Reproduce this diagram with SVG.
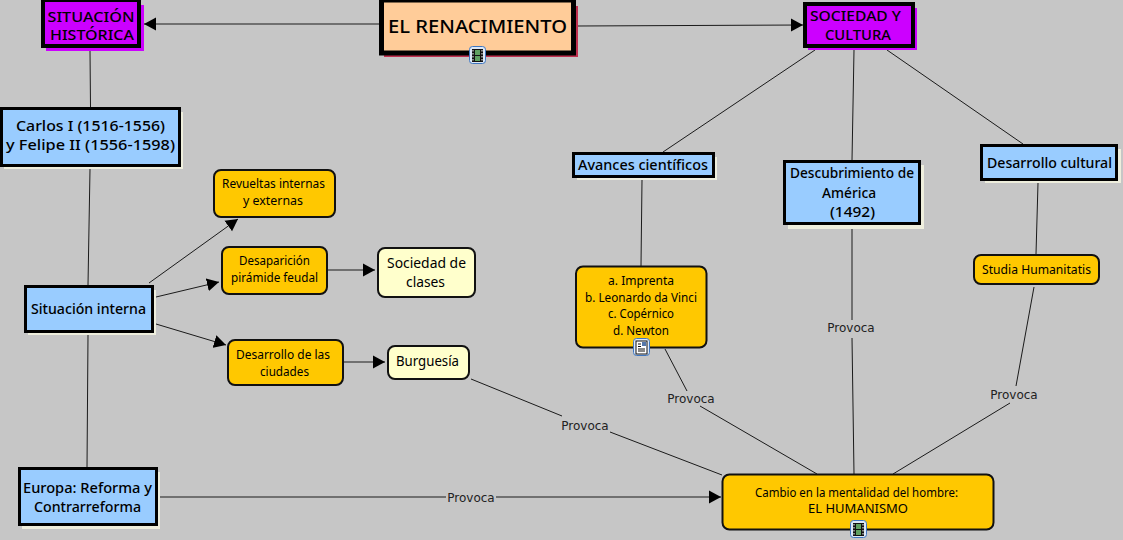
<svg xmlns="http://www.w3.org/2000/svg" xmlns:xlink="http://www.w3.org/1999/xlink" width="1123" height="540" viewBox="0 0 1123 540">
<style>
text{font-family:"Noto Sans","DejaVu Sans",sans-serif;fill:#000;text-anchor:middle}
.h{font-size:14px;font-weight:500}
.m{font-size:13px}
.s{font-size:12px}
.b{font-size:14px}
.p{font-family:"DejaVu Sans",sans-serif;font-size:12px;fill:#222}
.l{stroke:#1a1a1a;stroke-width:1;fill:none}
.a{marker-end:url(#ah)}
.purple{fill:#CC00FF;stroke:#000;stroke-width:4}
.blue{fill:#99CCFF;stroke:#000;stroke-width:3}
.gold{fill:#FFC800;stroke:#111;stroke-width:2}
.cream{fill:#FFFFCC;stroke:#111;stroke-width:2}
.ps{fill:#CC00FF}
.cs{fill:#EEEEDD}
</style>
<defs>
<marker id="ah" markerUnits="userSpaceOnUse" markerWidth="14" markerHeight="14" refX="12" refY="7" orient="auto"><path d="M0,0.500 L12,7 L0,13.500 Z" fill="#000"/></marker>
<symbol id="film" viewBox="0 0 17 19" overflow="visible">
<rect x="0.5" y="0.5" width="16" height="17" rx="3" fill="#DCE8F8" stroke="#3F76C0"/>
<rect x="3" y="3" width="11" height="13" fill="#111"/>
<rect x="6" y="4" width="5" height="5" fill="#5FA060"/>
<rect x="6" y="10" width="5" height="5" fill="#5FA060"/>
<path d="M4,4v11M13,4v11" stroke="#fff" stroke-dasharray="1.5 1.5" fill="none"/>
</symbol>
<symbol id="doc" viewBox="0 0 17 19" overflow="visible">
<rect x="0.5" y="0.5" width="16" height="17" rx="3" fill="#DCE8F8" stroke="#3F76C0"/>
<rect x="3" y="3" width="11" height="13" fill="#fff" stroke="#111"/>
<path d="M5,6h3M5,8.500h3M5,11h7M5,13h7" stroke="#111" fill="none"/>
<rect x="9" y="4" width="4" height="4" fill="#5577AA"/>
</symbol>
</defs>
<rect width="1123" height="540" fill="#C6C6C6"/>
<g id="connectors">
<path class="l a" d="M379,24H144"/>
<path class="l a" d="M577,26L803,25"/>
<path class="l" d="M90,51L90.500,107"/>
<path class="l" d="M90,169L88,285"/>
<path class="l" d="M88,335L87,467"/>
<path class="l" d="M815,50L663,152"/>
<path class="l" d="M854,50L852,160"/>
<path class="l" d="M887,50L1023,144"/>
<path class="l" d="M642,180L641,266"/>
<path class="l" d="M1038,183L1036,254"/>
<path class="l" d="M852,229L852,320M852,338L854,474"/>
<path class="l" d="M1034,287L1016,386M1010,403L893,474"/>
<path class="l" d="M665,349L687,391M700,406L817,474"/>
<path class="l" d="M471,379L562,416M610,432L722,475"/>
<path class="l" d="M158,497H446M496,497H721" marker-end="url(#ah)"/>
<path class="l a" d="M149,283L238,219"/>
<path class="l a" d="M156,297L219,282"/>
<path class="l a" d="M156,324L226,345"/>
<path class="l a" d="M327,270H375"/>
<path class="l a" d="M343,362H385"/>
<text class="p" x="851" y="332">Provoca</text>
<text class="p" x="1014" y="399">Provoca</text>
<text class="p" x="691" y="403">Provoca</text>
<text class="p" x="585" y="430">Provoca</text>
<text class="p" x="471" y="502">Provoca</text>
</g>
<g id="el-renacimiento">
<rect x="384" y="6" width="194" height="51" fill="#C0304F"/>
<rect x="381.500" y="0" width="192" height="53" fill="#FFCC99" stroke="#000" stroke-width="5"/>
<text x="477.500" y="33" font-size="18" font-weight="500" textLength="179" lengthAdjust="spacingAndGlyphs">EL RENACIMIENTO</text>
<use xlink:href="#film" x="469" y="46" width="17" height="19"/>
</g>
<g id="situacion-historica">
<rect x="46" y="5" width="98" height="46" class="ps"/>
<rect x="43" y="0" width="96" height="46" class="purple"/>
<text class="h" x="91" y="22" textLength="87" lengthAdjust="spacingAndGlyphs">SITUACIÓN</text>
<text class="h" x="92" y="40" textLength="84" lengthAdjust="spacingAndGlyphs">HISTÓRICA</text>
</g>
<g id="sociedad-cultura">
<rect x="808" y="8" width="109" height="42" class="ps"/>
<rect x="805" y="4" width="108" height="42" class="purple"/>
<text class="h" x="855.500" y="21" textLength="91" lengthAdjust="spacingAndGlyphs">SOCIEDAD Y</text>
<text class="h" x="858" y="40" textLength="66" lengthAdjust="spacingAndGlyphs">CULTURA</text>
</g>
<g id="carlos">
<rect x="4" y="112" width="179" height="57" class="cs"/>
<rect x="1.500" y="108.500" width="178" height="57" class="blue"/>
<text class="h" x="90.500" y="131" textLength="149" lengthAdjust="spacingAndGlyphs">Carlos I (1516-1556)</text>
<text class="h" x="90.500" y="150" textLength="169" lengthAdjust="spacingAndGlyphs">y Felipe II (1556-1598)</text>
</g>
<g id="situacion-interna">
<rect x="28" y="290" width="128" height="45" class="cs"/>
<rect x="25.500" y="286.500" width="127" height="45" class="blue"/>
<text class="h" x="88.500" y="314" textLength="115" lengthAdjust="spacingAndGlyphs">Situación interna</text>
</g>
<g id="europa">
<rect x="22" y="472" width="138" height="57" class="cs"/>
<rect x="19.500" y="468.500" width="137" height="56" class="blue"/>
<text class="h" x="87.500" y="493" textLength="129" lengthAdjust="spacingAndGlyphs">Europa: Reforma y</text>
<text class="h" x="87.500" y="512" textLength="107" lengthAdjust="spacingAndGlyphs">Contrarreforma</text>
</g>
<g id="avances">
<rect x="577" y="157" width="140" height="23" class="cs"/>
<rect x="573.500" y="153.500" width="140" height="23" class="blue"/>
<text class="h" x="643" y="170" textLength="130" lengthAdjust="spacingAndGlyphs">Avances científicos</text>
</g>
<g id="descubrimiento">
<rect x="788" y="165" width="136" height="64" class="cs"/>
<rect x="784.500" y="161.500" width="135" height="62" class="blue"/>
<text class="h" x="852" y="178" textLength="124" lengthAdjust="spacingAndGlyphs">Descubrimiento de</text>
<text class="h" x="849" y="198" textLength="54" lengthAdjust="spacingAndGlyphs">América</text>
<text class="h" x="852.500" y="217" textLength="45" lengthAdjust="spacingAndGlyphs">(1492)</text>
</g>
<g id="desarrollo-cultural">
<rect x="985" y="149" width="136" height="34" class="cs"/>
<rect x="981.500" y="145.500" width="135" height="34" class="blue"/>
<text class="h" x="1049.500" y="168" textLength="125" lengthAdjust="spacingAndGlyphs">Desarrollo cultural</text>
</g>
<g id="revueltas">
<rect x="214" y="170" width="121" height="47" rx="7" class="gold"/>
<text class="s" x="273.500" y="188" textLength="103" lengthAdjust="spacingAndGlyphs">Revueltas internas</text>
<text class="s" x="273" y="205" textLength="60" lengthAdjust="spacingAndGlyphs">y externas</text>
</g>
<g id="desaparicion">
<rect x="222" y="247" width="105" height="47" rx="7" class="gold"/>
<text class="s" x="274.500" y="265" textLength="71" lengthAdjust="spacingAndGlyphs">Desaparición</text>
<text class="s" x="274.500" y="282" textLength="87" lengthAdjust="spacingAndGlyphs">pirámide feudal</text>
</g>
<g id="sociedad-clases">
<rect x="378" y="248" width="97" height="49" rx="7" class="cream"/>
<text class="b" x="426.500" y="268" textLength="79" lengthAdjust="spacingAndGlyphs">Sociedad de</text>
<text class="b" x="425.500" y="287" textLength="39" lengthAdjust="spacingAndGlyphs">clases</text>
</g>
<g id="desarrollo-ciudades">
<rect x="228" y="340" width="115" height="45" rx="7" class="gold"/>
<text class="s" x="283" y="359" textLength="94" lengthAdjust="spacingAndGlyphs">Desarrollo de las</text>
<text class="s" x="284.500" y="376" textLength="49" lengthAdjust="spacingAndGlyphs">ciudades</text>
</g>
<g id="burguesia">
<rect x="388" y="346" width="81" height="33" rx="7" class="cream"/>
<text class="b" x="427.500" y="366" textLength="63" lengthAdjust="spacingAndGlyphs">Burguesía</text>
</g>
<g id="imprenta">
<rect x="576" y="266.500" width="130.500" height="81" rx="7" class="gold"/>
<text class="s" x="641" y="285" textLength="66" lengthAdjust="spacingAndGlyphs">a. Imprenta</text>
<text class="s" x="641" y="302" textLength="112" lengthAdjust="spacingAndGlyphs">b. Leonardo da Vinci</text>
<text class="s" x="641" y="318" textLength="66" lengthAdjust="spacingAndGlyphs">c. Copérnico</text>
<text class="s" x="641" y="335" textLength="56" lengthAdjust="spacingAndGlyphs">d. Newton</text>
<use xlink:href="#doc" x="633" y="338" width="17" height="19"/>
</g>
<g id="studia">
<rect x="974" y="255" width="125" height="29" rx="7" class="gold"/>
<text class="s" x="1036.500" y="274" textLength="109" lengthAdjust="spacingAndGlyphs">Studia Humanitatis</text>
</g>
<g id="cambio">
<rect x="722.500" y="474.500" width="271" height="55" rx="7" class="gold"/>
<text class="s" x="856.500" y="497" textLength="203" lengthAdjust="spacingAndGlyphs">Cambio en la mentalidad del hombre:</text>
<text class="s" x="858" y="513" textLength="100" lengthAdjust="spacingAndGlyphs">EL HUMANISMO</text>
<use xlink:href="#film" x="850" y="520" width="17" height="19"/>
</g>
</svg>
